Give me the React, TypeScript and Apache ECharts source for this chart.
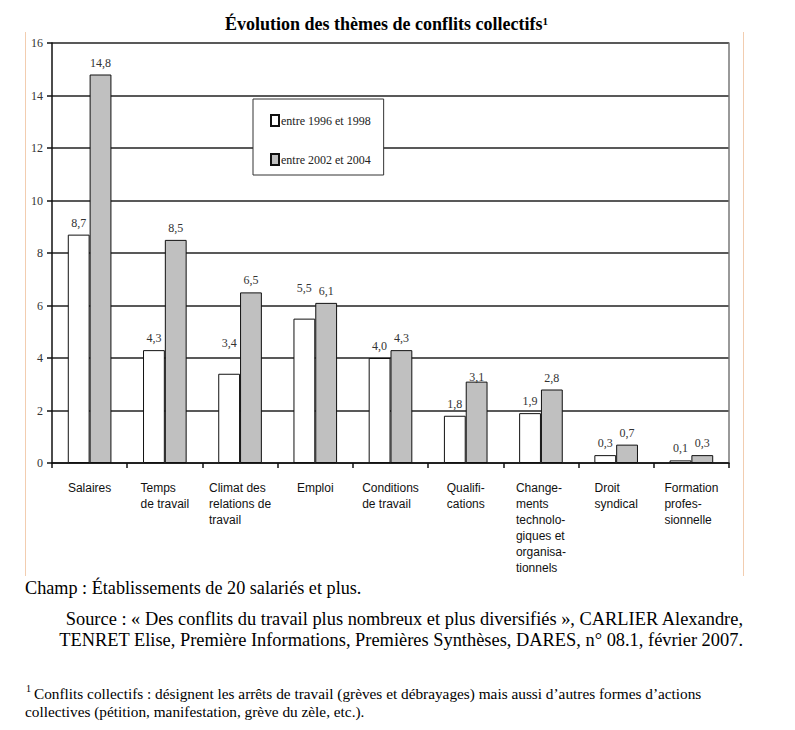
import React, { useEffect, useRef } from "react";
import * as echarts from "echarts";

const categories = [
  "Salaires",
  "Temps\nde travail",
  "Climat des\nrelations de\ntravail",
  "Emploi",
  "Conditions\nde travail",
  "Qualifi-\ncations",
  "Change-\nments\ntechnolo-\ngiques et\norganisa-\ntionnels",
  "Droit\nsyndical",
  "Formation\nprofes-\nsionnelle",
];
const series1996 = [8.7, 4.3, 3.4, 5.5, 4.0, 1.8, 1.9, 0.3, 0.1];
const series2002 = [14.8, 8.5, 6.5, 6.1, 4.3, 3.1, 2.8, 0.7, 0.3];
const seriesNames = ["entre 1996 et 1998", "entre 2002 et 2004"];
const yTicks = [0, 2, 4, 6, 8, 10, 12, 14, 16];

// label nudges (styling only): [seriesIndex, categoryIndex, dy]
const labelNudges: [number, number, number][] = [
  [0, 2, -19],
  [0, 3, -19],
  [1, 5, 7],
];

const SERIF = "'Liberation Serif', 'Times New Roman', serif";
const SANS = "'Liberation Sans', Arial, sans-serif";

function fmt(v: number) {
  return v.toFixed(1).replace(".", ",");
}

function buildData(values: number[], si: number) {
  return values.map((v, i) => {
    const n = labelNudges.find((x) => x[0] === si && x[1] === i);
    if (!n) return v;
    return { value: v, label: { offset: [0, n[2]] } };
  });
}

export default function App() {
  const ref = useRef<HTMLDivElement>(null);
  useEffect(() => {
    if (!ref.current) return;
    const chart = echarts.init(ref.current, null, { renderer: "svg" });
    const labelStyle = {
      show: true,
      position: "top" as const,
      distance: 6,
      fontFamily: SERIF,
      fontSize: 12,
      color: "#333",
      formatter: (p: any) => fmt(p.value),
    };
    const bodyText = (text: string, x: number, y: number, size: number, align: string) => ({
      type: "text",
      x,
      y,
      style: { text, font: size + "px " + SERIF, fill: "#000", verticalAlign: "middle", align },
    });
    chart.setOption({
      animation: false,
      backgroundColor: "#fff",
      title: {
        text: "{t|Évolution des thèmes de conflits collectifs}{s|1}",
        left: 220,
        top: 10,
        textStyle: {
          rich: {
            t: { fontFamily: SERIF, fontWeight: "bold", fontSize: 18, color: "#000" },
            s: { fontFamily: SERIF, fontWeight: "bold", fontSize: 11, color: "#000", verticalAlign: "top", padding: [0, 0, 6, 0] },
          },
        },
      },
      legend: {
        orient: "vertical",
        left: 253,
        top: 99,
        padding: [15, 13, 9, 17],
        itemGap: 26,
        itemWidth: 8,
        itemHeight: 11,
        backgroundColor: "#fff",
        borderColor: "#333",
        borderWidth: 1,
        borderRadius: 0,
        icon: "rect",
        textStyle: { fontFamily: SERIF, fontSize: 12, color: "#222", padding: [0, 0, 0, -3] },
        data: seriesNames,
      },
      grid: { left: 52, right: 66, top: 43, bottom: 267, containLabel: false },
      xAxis: {
        type: "category",
        data: categories,
        axisLine: { lineStyle: { color: "#111", width: 1.5 } },
        axisTick: { show: true, length: 5, lineStyle: { color: "#111", width: 1.5 } },
        axisLabel: {
          interval: 0,
          margin: 17,
          fontFamily: SANS,
          fontSize: 12,
          color: "#111",
          lineHeight: 16,
          formatter: (v: string) =>
            v
              .split("\n")
              .map((l) => "{a|" + l + "}")
              .join("\n"),
          rich: {
            a: { fontFamily: SANS, fontSize: 12, color: "#111", lineHeight: 16, align: "left" },
          },
        },
      },
      yAxis: [
        {
          type: "value",
          min: yTicks[0],
          max: yTicks[yTicks.length - 1],
          interval: 2,
          axisLine: { show: true, lineStyle: { color: "#111", width: 1.5 } },
          axisTick: { show: true, length: 5, lineStyle: { color: "#111", width: 1.5 } },
          axisLabel: { fontFamily: SERIF, fontSize: 12, color: "#333", margin: 9 },
          splitLine: { show: true, lineStyle: { color: "#222", width: 1.5 } },
        },
        {
          type: "value",
          position: "right",
          min: yTicks[0],
          max: yTicks[yTicks.length - 1],
          interval: 2,
          axisLine: { show: true, lineStyle: { color: "#777", width: 1.5 } },
          axisTick: { show: false },
          axisLabel: { show: false },
          splitLine: { show: false },
        },
      ],
      series: [
        {
          name: seriesNames[0],
          type: "bar",
          data: buildData(series1996, 0),
          barGap: "0%",
          barCategoryGap: "42%",
          itemStyle: { color: "#fff", borderColor: "#111", borderWidth: 1 },
          label: labelStyle,
        },
        {
          name: seriesNames[1],
          type: "bar",
          data: buildData(series2002, 1),
          barGap: "0%",
          barCategoryGap: "42%",
          itemStyle: { color: "#c0c0c0", borderColor: "#111", borderWidth: 1 },
          label: labelStyle,
        },
      ],
      graphic: [
        { type: "line", shape: { x1: 25.5, y1: 32, x2: 25.5, y2: 576 }, style: { stroke: "#f2cdb0", lineWidth: 1 } },
        { type: "line", shape: { x1: 743.5, y1: 32, x2: 743.5, y2: 576 }, style: { stroke: "#f2cdb0", lineWidth: 1 } },
        bodyText("Champ : Établissements de 20 salariés et plus.", 25, 588, 18.2, "left"),
        bodyText(
          "Source : « Des conflits du travail plus nombreux et plus diversifiés », CARLIER Alexandre,",
          743,
          619,
          18.4,
          "right"
        ),
        bodyText(
          "TENRET Elise, Première Informations, Premières Synthèses, DARES, n° 08.1, février 2007.",
          743,
          640,
          18.4,
          "right"
        ),
        bodyText("1", 26, 688, 10, "left"),
        bodyText(
          "Conflits collectifs : désignent les arrêts de travail (grèves et débrayages) mais aussi d’autres formes d’actions",
          34,
          693,
          15.3,
          "left"
        ),
        bodyText("collectives (pétition, manifestation, grève du zèle, etc.).", 25, 711, 15.3, "left"),
      ],
    });
    return () => chart.dispose();
  }, []);
  return (
    <div
      ref={ref}
      style={{ position: "absolute", left: 0, top: 0, width: 795, height: 730, background: "#fff" }}
    />
  );
}
